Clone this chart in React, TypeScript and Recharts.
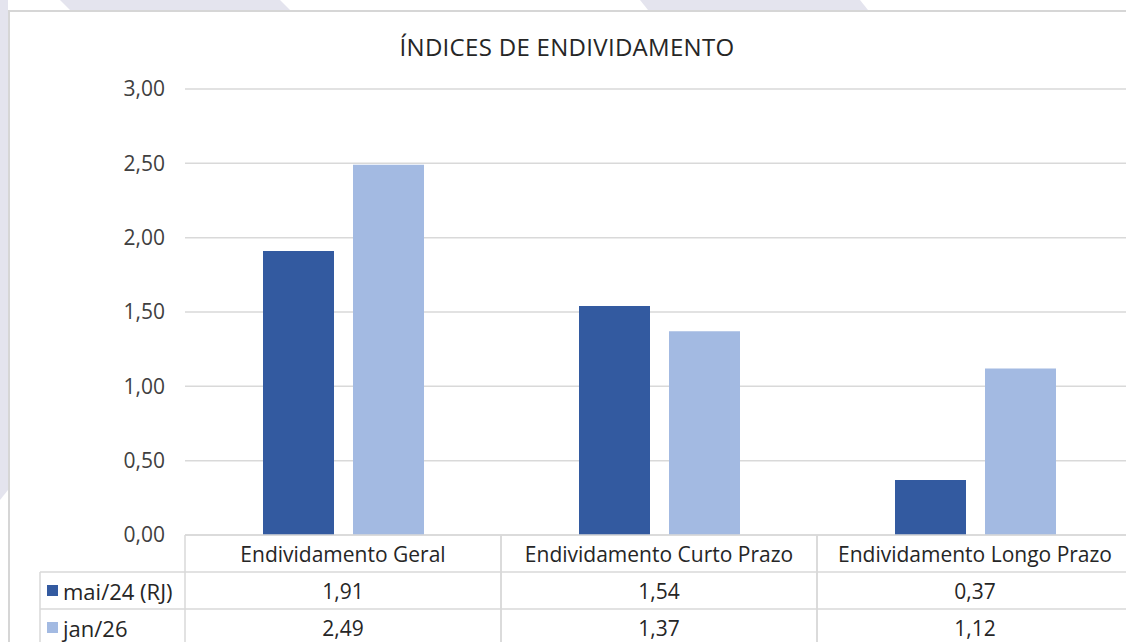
import { Bar, BarChart, CartesianGrid, XAxis, YAxis } from "recharts"

const categories = ["Endividamento Geral", "Endividamento Curto Prazo", "Endividamento Longo Prazo"]
const seriesNames = ["mai/24 (RJ)", "jan/26"]
const mai24 = [1.91, 1.54, 0.37]
const jan26 = [2.49, 1.37, 1.12]
const yTicks = [0, 0.5, 1, 1.5, 2, 2.5, 3]

const seriesValues = [mai24, jan26]
const colors = ["#335AA0", "#A3BAE2"]

const data = categories.map((name, i) => ({ name, mai24: mai24[i], jan26: jan26[i] }))

const CHART_W = 1140
const CHART_H = 642
const MARGIN = { top: 89, right: 7, bottom: 0, left: 0 }
const Y_W = 185
const X_H = 107
const BAND = (CHART_W - MARGIN.left - MARGIN.right - Y_W) / categories.length
const ROW_H = 37
const GRID = "#d9d9d9"
const TEXT = "#262626"
const FONT = "'Open Sans', sans-serif"

const fmt = (v: number) => v.toFixed(2).replace(".", ",")

function TableTick(props: any) {
  const { x, y, payload } = props
  const i = payload.index
  const left = x - BAND / 2
  const right = x + BAND / 2
  const rowLines = [y + ROW_H, y + ROW_H * 2, y + ROW_H * 3]

  return (
    <g fontFamily={FONT} fontSize={21} fill={TEXT}>
      <line x1={left} x2={left} y1={y} y2={y + ROW_H * 3} stroke={GRID} strokeWidth={1.5} />
      <line x1={right} x2={right} y1={y} y2={y + ROW_H * 3} stroke={GRID} strokeWidth={1.5} />
      {rowLines.map((ly) => (
        <line key={ly} x1={left} x2={right} y1={ly} y2={ly} stroke={GRID} strokeWidth={1.5} />
      ))}
      <text x={x} y={y + ROW_H / 2} textAnchor="middle" dominantBaseline="central">
        {payload.value}
      </text>
      {seriesValues.map((vals, s) => (
        <text key={s} x={x} y={y + ROW_H * (s + 1.5)} textAnchor="middle" dominantBaseline="central">
          {fmt(vals[i])}
        </text>
      ))}
      {i === 0 && (
        <g>
          <line x1={40} x2={40} y1={y + ROW_H} y2={y + ROW_H * 3} stroke={GRID} strokeWidth={1.5} />
          {rowLines.map((ly) => (
            <line key={ly} x1={40} x2={left} y1={ly} y2={ly} stroke={GRID} strokeWidth={1.5} />
          ))}
          {seriesNames.map((n, s) => (
            <g key={n}>
              <rect x={47} y={y + ROW_H * (s + 1.5) - 5.5} width={11} height={11} fill={colors[s]} />
              <text x={63} y={y + ROW_H * (s + 1.5)} fontSize={22} dominantBaseline="central">
                {n}
              </text>
            </g>
          ))}
        </g>
      )}
    </g>
  )
}

export default function App() {
  return (
    <div style={{ position: "fixed", left: 0, top: 0, width: 1126, height: 642, overflow: "hidden", background: "#fff" }}>
      <svg width={1126} height={642} style={{ position: "absolute", left: 0, top: 0 }}>
        <polygon points="60,0 280,0 290,10 70,10" fill="#e4e4ee" />
        <polygon points="640,0 860,0 868,10 648,10" fill="#e4e4ee" />
        <polygon points="0,0 8,0 8,490 0,500" fill="#e4e4ee" />
      </svg>
      <div
        style={{
          position: "absolute",
          left: 8,
          top: 10,
          width: 1200,
          height: 700,
          borderTop: "2px solid #d6d6d6",
          borderLeft: "2px solid #d6d6d6",
          background: "#fff",
        }}
      />
      <div
        style={{
          position: "absolute",
          left: 0,
          top: 30,
          width: 1126,
          textAlign: "center",
          fontFamily: FONT,
          fontSize: 24,
          letterSpacing: 0.3,
          color: TEXT,
          paddingLeft: 8,
          boxSizing: "border-box",
        }}
      >
        ÍNDICES DE ENDIVIDAMENTO
      </div>
      <div style={{ position: "absolute", left: 0, top: 0 }}>
        <BarChart
          width={CHART_W}
          height={CHART_H}
          data={data}
          margin={MARGIN}
          barSize={71}
          barGap={19}
        >
          <CartesianGrid vertical={false} stroke={GRID} strokeWidth={1.5} />
          <YAxis
            width={Y_W}
            domain={[0, 3]}
            ticks={yTicks}
            tickFormatter={fmt}
            axisLine={false}
            tickLine={false}
            tickSize={0}
            tickMargin={20}
            tick={{ fontSize: 21, fill: "#404040", fontFamily: FONT }}
          />
          <XAxis
            dataKey="name"
            height={X_H}
            interval={0}
            axisLine={{ stroke: GRID, strokeWidth: 1.5 }}
            tickLine={false}
            tickSize={0}
            tickMargin={0}
            tick={<TableTick />}
          />
          <Bar dataKey="mai24" name={seriesNames[0]} fill={colors[0]} isAnimationActive={false} />
          <Bar dataKey="jan26" name={seriesNames[1]} fill={colors[1]} isAnimationActive={false} />
        </BarChart>
      </div>
    </div>
  )
}
